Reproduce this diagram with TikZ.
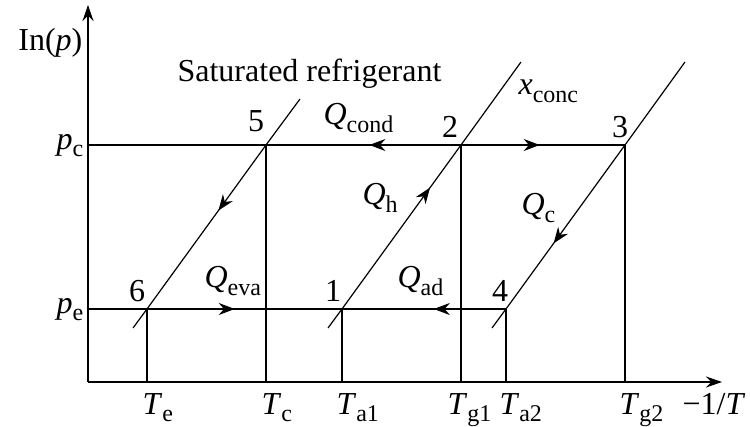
\documentclass[tikz,border=0pt]{standalone}
\usepackage{fontspec}
\setmainfont{Liberation Serif}
\usetikzlibrary{arrows.meta,decorations.markings}

\newcommand{\varlab}[2]{\textit{#1}\raisebox{-0.5ex}{\fontsize{12}{14}\selectfont #2}}

\tikzset{
  midarrow/.style={postaction={decorate},
    decoration={markings,mark=at position #1 with {\arrow{Stealth[length=8pt,width=6pt]}}}},
  lbl/.style={inner sep=0pt,font=\fontsize{16}{18}\selectfont},
}

\begin{document}
\begin{tikzpicture}[x=0.5pt,y=-0.5pt,line width=0.6pt]
        \useasboundingbox (0,0) rectangle (750,427);
        % state points
        \coordinate (O) at (88,382);
        \coordinate (xend) at (722,382);
        \coordinate (yend) at (88,5);
        \coordinate (p6) at (147,309);
        \coordinate (p1) at (342,309);
        \coordinate (p4) at (506,309);
        \coordinate (p5) at (266,145);
        \coordinate (p2) at (461,145);
        \coordinate (p3) at (625,145);
        % ends of the isosteres
        \coordinate (a0) at (133,328);
        \coordinate (a1) at (300,99);
        \coordinate (b0) at (328,328);
        \coordinate (b1) at (521,62);
        \coordinate (c0) at (492,328);
        \coordinate (c1) at (685,62);
        % axes
        \draw[-{Stealth[length=8pt,width=5.5pt]}] (O) -- (xend);
        \draw[-{Stealth[length=8pt,width=5.5pt]}] (O) -- (yend);
        % pressure levels
        \draw (p5 -| O) -- (p5);
        \draw[midarrow=0.47] (p2) -- (p5);
        \draw[midarrow=0.48] (p2) -- (p3);
        \draw (p6 -| O) -- (p6);
        \draw[midarrow=0.45] (p6) -- (p1);
        \draw[midarrow=0.44] (p4) -- (p1);
        % isosteres
        \draw (a0) -- (p6);
        \draw[midarrow=0.4] (p5) -- (p6);
        \draw (p5) -- (a1);
        \draw (b0) -- (p1);
        \draw[midarrow=0.74] (p1) -- (p2);
        \draw (p2) -- (b1);
        \draw (c0) -- (p4);
        \draw[midarrow=0.6] (p3) -- (p4);
        \draw (p3) -- (c1);
        % drops to the temperature axis
        \foreach \p in {p6,p5,p1,p2,p4,p3}
            \draw (\p) -- (\p |- O);
        % labels
        \node[lbl,anchor=east] (ylab) at (83,43) {In(\textit{p})};
        \node[lbl,anchor=base west] (satlab) at (177,82) {Saturated refrigerant};
        \node[lbl,anchor=base west] (xlab) at (518,95) {\varlab{x}{conc}};
        \node[lbl,anchor=mid east] (pclab) at (84,145) {\varlab{p}{c}};
        \node[lbl,anchor=mid east] (pelab) at (84,309) {\varlab{p}{e}};
        \node[lbl] (n5) at (256,121) {5};
        \node[lbl] (n2) at (450,127) {2};
        \node[lbl] (n3) at (620,127) {3};
        \node[lbl] (n6) at (137,291) {6};
        \node[lbl] (n1) at (333,291) {1};
        \node[lbl] (n4) at (500,291) {4};
        \node[lbl,anchor=base west] (qcond) at (323,125) {\varlab{Q}{cond}};
        \node[lbl,anchor=base west] (qh) at (362,205) {\varlab{Q}{h}};
        \node[lbl,anchor=base west] (qc) at (521,215) {\varlab{Q}{c}};
        \node[lbl,anchor=base west] (qeva) at (204,288) {\varlab{Q}{eva}};
        \node[lbl,anchor=base west] (qad) at (397,288) {\varlab{Q}{ad}};
        \node[lbl,anchor=north west] (te) at (142,393) {\varlab{T}{e}};
        \node[lbl,anchor=north west] (tc) at (261,393) {\varlab{T}{c}};
        \node[lbl,anchor=north west] (ta1) at (336,393) {\varlab{T}{a1}};
        \node[lbl,anchor=north west] (tg1) at (447,393) {\varlab{T}{g1}};
        \node[lbl,anchor=north west] (ta2) at (499,393) {\varlab{T}{a2}};
        \node[lbl,anchor=north west] (tg2) at (619,393) {\varlab{T}{g2}};
        \node[lbl,anchor=north west] (tinv) at (682,393) {−1/\textit{T}};
\end{tikzpicture}
\end{document}
